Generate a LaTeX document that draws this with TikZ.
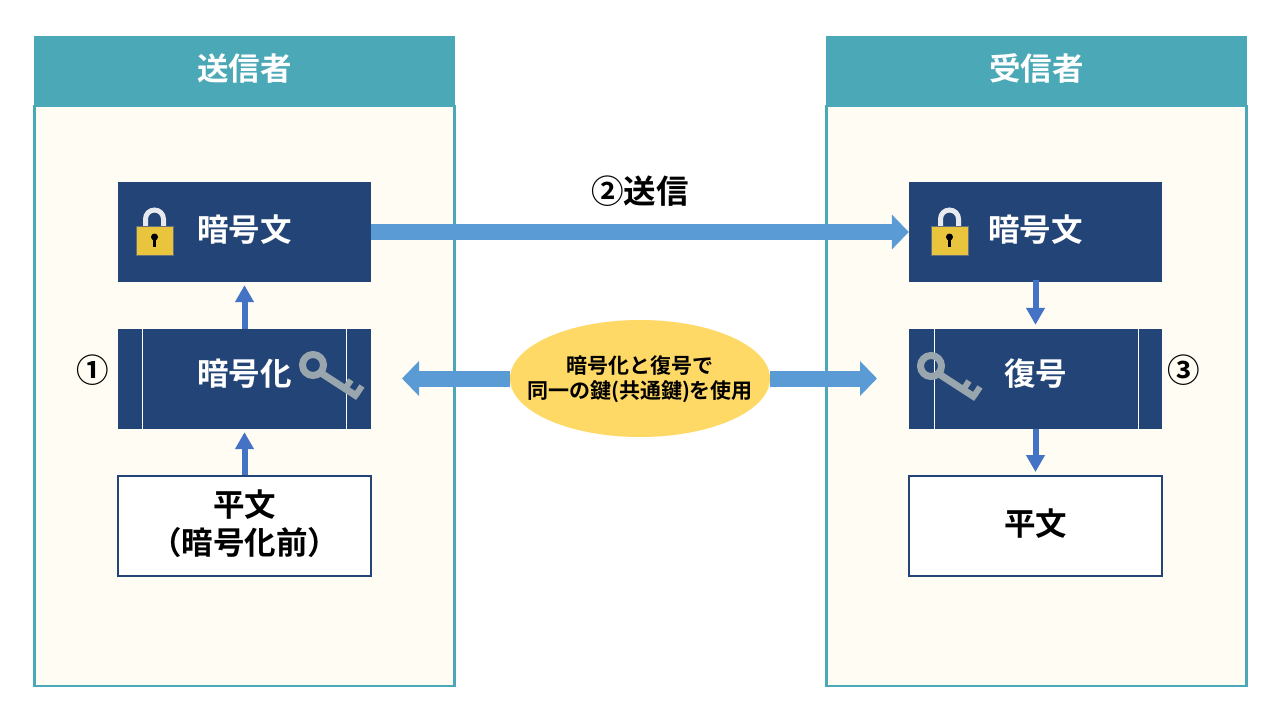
\documentclass[tikz,border=0pt]{standalone}
\usepackage{fontspec}
\setmainfont{Noto Sans CJK JP}[BoldFont={* Bold}]
\usetikzlibrary{shapes.geometric,arrows.meta}
\definecolor{teal1}{HTML}{4BA8B6}
\definecolor{cream}{HTML}{FFFCF4}
\definecolor{navy}{HTML}{234476}
\definecolor{bigblue}{HTML}{5B9BD5}
\definecolor{smallblue}{HTML}{4472C4}
\definecolor{oval}{HTML}{FFD966}
\definecolor{keygray}{HTML}{9AA6AE}
\definecolor{lockgold}{HTML}{E9C53E}
\definecolor{shackle}{HTML}{E6E9EE}
\newcommand\lift[1]{\raisebox{2.5pt}[\height][\depth]{#1}}
\tikzset{
  x=1pt,y=-1pt,
  panel/.style={draw=teal1,line width=2.5pt,fill=cream,minimum width=420pt,minimum height=580pt,inner sep=0pt},
  headbox/.style={fill=teal1,text=white,minimum width=421pt,minimum height=70pt,inner sep=0pt,font=\fontsize{31.5}{36}\selectfont\bfseries},
  navybox/.style={fill=navy,text=white,minimum width=253pt,minimum height=100pt,inner sep=0pt,font=\fontsize{31.5}{36}\selectfont\bfseries},
  plainbox/.style={draw=navy,line width=2pt,fill=white,text=black,minimum width=253pt,minimum height=100pt,inner sep=0pt,align=center,font=\fontsize{31.5}{38}\selectfont\bfseries},
  sidelabel/.style={font=\fontsize{32.5}{36}\selectfont\bfseries,inner sep=0pt},
  ovalnode/.style={ellipse,fill=oval,minimum width=260pt,minimum height=117pt,inner sep=0pt},
  ovaltext/.style={inner sep=0pt,align=center,font=\fontsize{21}{25.5}\selectfont\bfseries},
  bigarrow/.style={draw=bigblue,line width=16pt,-{Triangle[length=17pt,width=34pt]},},
  smallarrow/.style={draw=smallblue,line width=6pt,-{Triangle[length=17pt,width=18pt]}},
  sep/.style={draw=white,line width=1pt},
  keyicon/.pic={
    \draw[keygray,line width=7pt] (0,0) circle (10.5pt);
    \draw[keygray,line width=7pt] (8,8) -- (45,32);
    \draw[keygray,line width=6pt] (32,24) -- (38,15);
    \draw[keygray,line width=6pt] (43,30) -- (49,21);
  },
  lockicon/.pic={
    \draw[shackle,line width=5pt] (-9,-5) -- (-9,-18) arc[start angle=180,end angle=0,radius=9pt] -- (9,-5);
    \fill[lockgold,draw=gray!70!navy,line width=.5pt] (-18.5,-11) rectangle (18.5,18);
    \fill[black] (0,0) circle (3.5pt);
    \fill[black] (-1.5,0) rectangle (1.5,10);
  },
}
\begin{document}
\begin{tikzpicture}
\useasboundingbox (0,0) rectangle (1280,720);
\fill[white] (0,0) rectangle (1280,720);

\node[panel] (leftpanel) at (244.5,396) {};
\node[panel] (rightpanel) at (1036.5,396) {};
\node[headbox] (lefthead) at (244.5,71) {\lift{送信者}};
\node[headbox] (righthead) at (1036.5,71) {\lift{受信者}};

\node[navybox] (ciphera) at (244.5,232) {\lift{暗号文}};
\node[navybox] (enc) at (244.5,379) {};
\node[plainbox] (plaina) at (244.5,526) {\lift{平文}\\\lift{（暗号化前）}};

\node[navybox] (cipherb) at (1035.5,232) {\lift{暗号文}};
\node[navybox] (dec) at (1035.5,379) {};
\node[plainbox] (plainb) at (1035.5,526) {\lift{平文}};

\draw[sep] (142.5,329) -- (142.5,429);
\draw[sep] (346.5,329) -- (346.5,429);
\draw[sep] (934.5,329) -- (934.5,429);
\draw[sep] (1138.5,329) -- (1138.5,429);

\node[navybox,fill=none] (enctext) at (244.5,376) {\lift{暗号化}};
\node[navybox,fill=none] (dectext) at (1035.5,376) {\lift{復号}};

\pic at (313,365) {keyicon};
\pic at (931,366) {keyicon};
\pic at (154.5,237) {lockicon};
\pic at (949.5,237) {lockicon};

\node[sidelabel] (one) at (93,370) {①};
\node[sidelabel] (three) at (1184,370) {③};
\node[sidelabel] (send) at (640,191) {②送信};

\node[ovalnode] (shared) at (640,378.5) {};
\node[ovaltext] (sharedtext) at (640,379) {暗号化と復号で\\同一の鍵(共通鍵)を使用};
\coordinate (lefttip) at (402,378.5);
\coordinate (righttip) at (877,378.5);

\draw[bigarrow] (ciphera.east) -- (cipherb.west);
\draw[bigarrow] (shared.west) -- (lefttip);
\draw[bigarrow] (shared.east) -- (righttip);

\draw[smallarrow,shorten >=3pt] (plaina.north) -- (enc.south);
\draw[smallarrow,shorten >=3pt] (enc.north) -- (ciphera.south);
\draw[smallarrow,shorten >=4pt,shorten <=-2pt] (cipherb.south) -- (dec.north);
\draw[smallarrow,shorten >=3pt] (dec.south) -- (plainb.north);
\end{tikzpicture}
\end{document}
